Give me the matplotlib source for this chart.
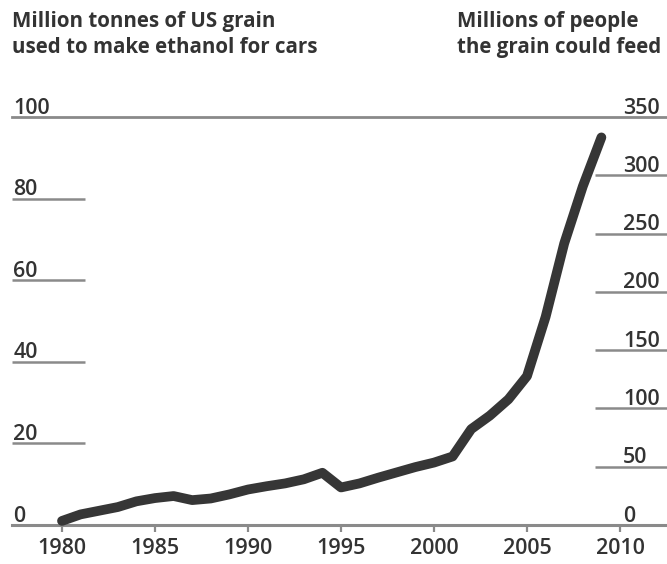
import matplotlib
matplotlib.use("Agg")
import matplotlib.pyplot as plt

# grain used for ethanol, million tonnes
years = list(range(1980, 2010))
grain = [1.0, 2.6, 3.5, 4.4, 5.8, 6.6, 7.1, 6.1, 6.5, 7.5,
         8.7, 9.5, 10.2, 11.2, 12.8, 9.2, 10.2, 11.6, 12.9, 14.2,
         15.3, 16.8, 23.5, 26.8, 30.8, 36.5, 51.0, 69.0, 83.0, 95.0]

left_ticks = [20, 40, 60, 80]
right_ticks = [50, 100, 150, 200, 250, 300]
x_ticks = [1980, 1985, 1990, 1995, 2000, 2005, 2010]

left_title = "Million tonnes of US grain\nused to make ethanol for cars"
right_title = "Millions of people\nthe grain could feed"

plt.rcParams['font.family'] = ['Open Sans', 'DejaVu Sans']

W, H = 667, 564
ink = '#333333'
grid = '#8a8a8a'
num_size = 15.5
num_weight = 'semibold'

fig = plt.figure(figsize=(W / 100, H / 100), dpi=100)
fig.patch.set_facecolor('white')

# axes placed in pixel terms: baseline at y=525, top line at y=117
ax = fig.add_axes([12 / W, (H - 525) / H, 655 / W, (525 - 117) / H])
ax.set_xlim(1980 - 50 / 18.6, 1980 + 605 / 18.6)
ax.set_ylim(0, 100)
for s in ax.spines.values():
    s.set_visible(False)
ax.set_yticks([])
ax.set_xticks(x_ticks)
ax.set_xticklabels([str(y) for y in x_ticks], fontsize=num_size, color=ink,
                   fontweight=num_weight)
ax.tick_params(axis='x', length=5, width=1.6, color=grid, pad=4)

ax2 = ax.twinx()
ax2.set_ylim(0, 350)
for s in ax2.spines.values():
    s.set_visible(False)
ax2.set_yticks([])

# baseline and top rule
ax.axhline(0, color=grid, lw=2.2, clip_on=False, zorder=1)
ax.axhline(100, color=grid, lw=2.0, clip_on=False, zorder=1)

# short gridlines
ax.hlines(left_ticks, 0, 73 / 655, transform=ax.get_yaxis_transform(),
          color=grid, lw=1.8)
ax2.hlines(right_ticks, 583 / 655, 1, transform=ax2.get_yaxis_transform(),
           color=grid, lw=1.8)

for v in [0] + left_ticks + [100]:
    ax.annotate(str(v), (0, v), xycoords=ax.get_yaxis_transform(),
                xytext=(1, 2.5), textcoords='offset points',
                ha='left', va='baseline', fontsize=num_size, color=ink,
                fontweight=num_weight)
for v in [0] + right_ticks + [350]:
    ax2.annotate(str(v), (611 / 655, v), xycoords=ax2.get_yaxis_transform(),
                 xytext=(0, 2.5), textcoords='offset points',
                 ha='left', va='baseline', fontsize=num_size, color=ink,
                 fontweight=num_weight)

ax.plot(years, grain, color='#363636', lw=7, solid_capstyle='round',
        solid_joinstyle='round', zorder=3, clip_on=False)

fig.text(12 / W, 1 - 11 / H, left_title, ha='left', va='top',
         fontsize=14.8, fontweight='bold', color=ink, linespacing=1.3)
fig.text(457 / W, 1 - 11 / H, right_title, ha='left', va='top',
         fontsize=14.8, fontweight='bold', color=ink, linespacing=1.3)

fig.savefig('out.png', dpi=100, facecolor='white')
